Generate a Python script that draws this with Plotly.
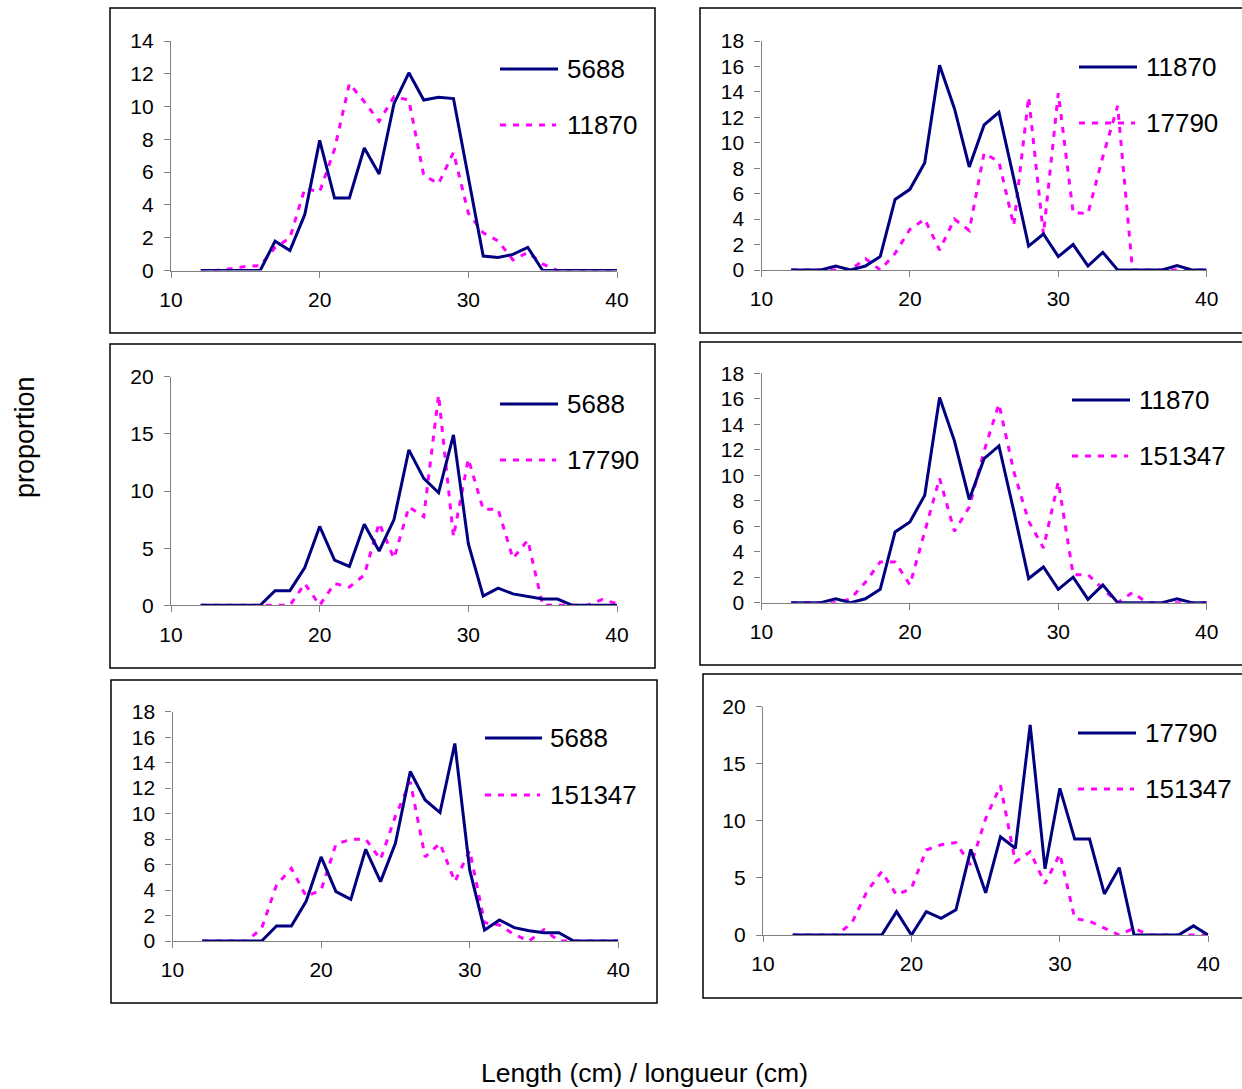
import plotly.graph_objects as go

# Length classes (cm)
lengths = list(range(12, 41))

# Panel 1: 5688 vs 11870
p1_5688 = [0, 0, 0, 0, 0, 1.79, 1.22, 3.42, 7.94, 4.42, 4.42, 7.47, 5.89, 10.18, 12.06,
           10.4, 10.57, 10.49, 5.68, 0.88, 0.79, 0.98, 1.41, 0, 0, 0, 0, 0, 0]
p1_11870 = [0, 0, 0.1, 0.25, 0.3, 1.4, 2.0, 5.0, 4.8, 7.4, 11.4, 10.3, 9.1, 10.6, 10.4,
            5.8, 5.3, 7.2, 3.5, 2.3, 1.8, 0.65, 1.1, 0.4, 0, 0, 0, 0, 0]

# Panel 2: 11870 vs 17790
p2_11870 = [0, 0, 0, 0.31, 0, 0.31, 1.05, 5.55, 6.34, 8.43, 16.1, 12.7, 8.1, 11.4, 12.4,
            7.2, 1.88, 2.83, 1.05, 2.0, 0.31, 1.39, 0, 0, 0, 0, 0.34, 0, 0]
p2_17790 = [0, 0, 0, 0, 0, 0.9, 0, 1.3, 3.2, 4.0, 1.57, 4.0, 3.1, 9.2, 8.5,
            3.5, 13.6, 2.8, 13.9, 4.5, 4.45, 8.9, 12.9, 0, 0, 0, 0, 0, 0]

# Panel 3: 5688 vs 17790
p3_5688 = [0, 0, 0, 0, 0, 1.28, 1.28, 3.3, 6.9, 3.96, 3.4, 7.1, 4.75, 7.5, 13.6,
           11.1, 9.85, 14.9, 5.4, 0.8, 1.5, 1.0, 0.76, 0.55, 0.55, 0, 0, 0, 0]
p3_17790 = [0, 0, 0, 0, 0, 0, 0, 1.9, 0, 1.9, 1.6, 2.65, 7.2, 4.1, 8.6,
            7.75, 18.4, 6.0, 12.8, 8.4, 8.4, 4.1, 5.7, 0, 0, 0, 0, 0.5, 0.15]

# Panel 4: 11870 vs 151347
p4_11870 = [0, 0, 0, 0.31, 0, 0.31, 1.05, 5.55, 6.34, 8.43, 16.1, 12.7, 8.1, 11.3, 12.3,
            7.2, 1.9, 2.8, 1.05, 2.0, 0.26, 1.4, 0, 0, 0, 0, 0.3, 0, 0]
p4_151347 = [0, 0, 0, 0, 0.3, 1.6, 3.2, 3.2, 1.4, 5.5, 9.76, 5.6, 7.5, 11.9, 15.6,
             10.3, 6.4, 4.3, 9.5, 2.2, 2.2, 1.1, 0, 0.8, 0, 0, 0, 0, 0]

# Panel 5: 5688 vs 151347
p5_5688 = [0, 0, 0, 0, 0, 1.18, 1.18, 3.14, 6.6, 3.87, 3.27, 7.2, 4.66, 7.67, 13.3,
           11.07, 10.08, 15.5, 5.58, 0.86, 1.65, 1.05, 0.81, 0.65, 0.65, 0, 0, 0, 0]
p5_151347 = [0, 0, 0, 0, 1.0, 4.4, 5.7, 3.5, 4.0, 7.6, 7.98, 8.0, 6.4, 9.8, 12.5,
             6.6, 7.67, 4.66, 7.1, 1.44, 1.26, 0.5, 0, 0.9, 0, 0, 0, 0, 0]

# Panel 6: 17790 vs 151347
p6_17790 = [0, 0, 0, 0, 0, 0, 0, 2.05, 0, 2.05, 1.46, 2.2, 7.5, 3.7, 8.6,
            7.6, 18.4, 5.8, 12.85, 8.4, 8.4, 3.6, 5.9, 0, 0, 0, 0, 0.8, 0]
p6_151347 = [0, 0, 0, 0, 1.1, 3.8, 5.55, 3.5, 4.1, 7.45, 7.9, 8.1, 6.1, 10.2, 13.1,
             6.4, 7.3, 4.5, 7.1, 1.46, 1.2, 0.6, 0, 0.6, 0, 0, 0, 0, 0]

x_ticks = [10, 20, 30, 40]

W, H = 1242, 1089
FONT = "Liberation Sans, Arial, sans-serif"
NAVY = "#000080"
MAGENTA = "#FF00FF"
AXIS_GREY = "#808080"

# (solid name, solid values, dashed name, dashed values, y max, y step,
#  plot area px [left, right, top, bottom], frame px [l, t, r, b], legend px [line x0, x1, text x, y1, y2])
panels = [
    ("5688", p1_5688, "11870", p1_11870, 14, 2,
     (171, 617, 41, 270.5), (110, 8, 655, 333), (500, 558, 565, 69, 125)),
    ("11870", p2_11870, "17790", p2_17790, 18, 2,
     (761.5, 1206.7, 41, 270), (700, 8, 1260, 333), (1079, 1137, 1144, 67, 123)),
    ("5688", p3_5688, "17790", p3_17790, 20, 5,
     (171, 617, 376.7, 605.3), (110, 344, 655, 668), (500, 558, 565, 404, 460)),
    ("11870", p4_11870, "151347", p4_151347, 18, 2,
     (761.5, 1206.7, 373.3, 602.7), (700, 342, 1260, 665), (1072, 1130, 1137, 400, 456)),
    ("5688", p5_5688, "151347", p5_151347, 18, 2,
     (172.5, 618.3, 711.7, 941), (111, 680, 657, 1003), (485, 542, 548, 738, 795)),
    ("17790", p6_17790, "151347", p6_151347, 20, 5,
     (763, 1208.3, 706.7, 935), (703, 674, 1260, 998), (1078, 1136, 1143, 733, 789)),
]

fig = go.Figure()
shapes = []
annotations = []

for i, (n1, v1, n2, v2, ymax, ystep, area, frame, leg) in enumerate(panels, start=1):
    suffix = "" if i == 1 else str(i)
    xa, ya = "x" + suffix, "y" + suffix
    left, right, top, bottom = area

    fig.add_trace(go.Scatter(
        x=lengths, y=v2, mode="lines", name=n2, xaxis=xa, yaxis=ya,
        line=dict(color=MAGENTA, width=3, dash="6px,7px"),
        cliponaxis=False, showlegend=False))
    fig.add_trace(go.Scatter(
        x=lengths, y=v1, mode="lines", name=n1, xaxis=xa, yaxis=ya,
        line=dict(color=NAVY, width=3),
        cliponaxis=False, showlegend=False))

    axis_common = dict(showline=True, linecolor=AXIS_GREY, linewidth=1.3,
                       ticks="outside", ticklen=6, tickcolor=AXIS_GREY, tickwidth=1.3,
                       showgrid=False, zeroline=False, automargin=False,
                       tickfont=dict(family=FONT, size=21, color="black"))
    fig.layout["xaxis" + suffix] = dict(
        axis_common, domain=[left / W, right / W], range=[10, 40],
        tickvals=x_ticks, anchor=ya, ticklabelstandoff=4)
    fig.layout["yaxis" + suffix] = dict(
        axis_common, domain=[1 - bottom / H, 1 - top / H], range=[0, ymax],
        tick0=0, dtick=ystep, anchor=xa, ticklabelstandoff=6)

    # frame around each chart
    fl, ft, fr, fb = frame
    shapes.append(dict(type="rect", xref="paper", yref="paper",
                       x0=fl / W, x1=fr / W, y0=1 - fb / H, y1=1 - ft / H,
                       line=dict(color="black", width=1.5)))

    # legend keys
    lx0, lx1, tx, ly1, ly2 = leg
    shapes.append(dict(type="line", xref="paper", yref="paper",
                       x0=lx0 / W, x1=lx1 / W, y0=1 - ly1 / H, y1=1 - ly1 / H,
                       line=dict(color=NAVY, width=3)))
    shapes.append(dict(type="line", xref="paper", yref="paper",
                       x0=lx0 / W, x1=(lx1 - 2) / W, y0=1 - ly2 / H, y1=1 - ly2 / H,
                       line=dict(color=MAGENTA, width=3, dash="6px,7px")))
    for name, ly in ((n1, ly1), (n2, ly2)):
        annotations.append(dict(text=name, xref="paper", yref="paper",
                                x=tx / W, y=1 - ly / H, xanchor="left", yanchor="middle",
                                showarrow=False,
                                font=dict(family=FONT, size=26, color="black")))

annotations.append(dict(text="proportion", xref="paper", yref="paper",
                        x=25 / W, y=1 - 437 / H, xanchor="center", yanchor="middle",
                        textangle=-90, showarrow=False,
                        font=dict(family=FONT, size=27, color="black")))
annotations.append(dict(text="Length (cm) / longueur (cm)", xref="paper", yref="paper",
                        x=644 / W, y=1 - 1073 / H, xanchor="center", yanchor="middle",
                        showarrow=False,
                        font=dict(family=FONT, size=26.5, color="black")))

fig.update_layout(
    template="none",
    width=W, height=H, margin=dict(l=0, r=0, t=0, b=0, pad=0, autoexpand=False),
    paper_bgcolor="white", plot_bgcolor="white",
    shapes=shapes, annotations=annotations, showlegend=False,
    font=dict(family=FONT, color="black"),
)

fig.write_html("out.html")
